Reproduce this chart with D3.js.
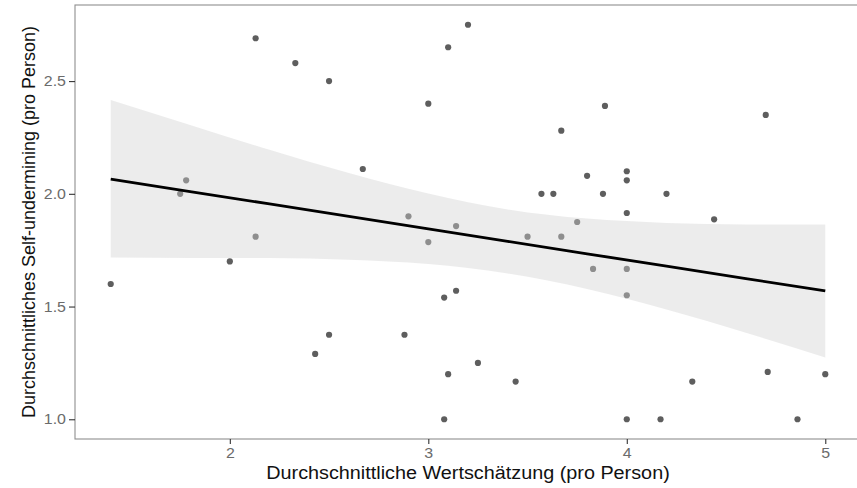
<!DOCTYPE html>
<html>
<head>
<meta charset="utf-8">
<script src="https://cdn.jsdelivr.net/npm/d3@7"></script>
<style>
    body { margin: 0; background: #fff; }
    text { font-family: "Liberation Sans", Arial, sans-serif; }
</style>
</head>
<body>
<div id="chart"></div>
<script>
"use strict";

// Punkte (Wertschätzung, Self-undermining) pro Person
const wertschaetzung = [
    2.13, 2.33, 2.5, 3.2, 3.1, 3.0, 3.67, 2.67, 3.57, 3.63, 3.89, 4.7,
    3.8, 4.0, 4.0, 3.88, 4.2, 4.0, 4.44, 1.4, 2.0, 3.08, 3.14, 2.5,
    2.88, 2.43, 3.25, 3.1, 3.44, 3.08, 4.71, 5.0, 4.33, 4.0, 4.17, 4.86,
    1.78, 1.75, 2.13, 2.9, 3.14, 3.0, 3.5, 3.67, 3.75, 3.83, 4.0, 4.0
];
const selfUndermining = [
    2.69, 2.58, 2.5, 2.75, 2.65, 2.4, 2.28, 2.11, 2.0, 2.0, 2.39, 2.35,
    2.08, 2.1, 2.06, 2.0, 2.0, 1.915, 1.887, 1.6, 1.7, 1.54, 1.57, 1.375,
    1.375, 1.29, 1.25, 1.2, 1.167, 1.0, 1.21, 1.2, 1.167, 1.0, 1.0, 1.0,
    2.06, 2.0, 1.81, 1.9, 1.857, 1.786, 1.81, 1.81, 1.875, 1.667, 1.667, 1.55
];

// Regressionslinie und Konfidenzband
const bandX =     [1.4,   1.8,   2.2,   2.6,   3.0,   3.4,   3.8,   4.2,   4.6,   5.0];
const bandFit =   [2.065, 2.010, 1.955, 1.900, 1.845, 1.789, 1.734, 1.679, 1.624, 1.569];
const bandLower = [1.717, 1.715, 1.715, 1.708, 1.689, 1.647, 1.578, 1.487, 1.384, 1.274];
const bandUpper = [2.416, 2.305, 2.195, 2.092, 2.001, 1.931, 1.890, 1.871, 1.864, 1.864];

const xTicks = [2, 3, 4, 5];
const yTicks = [1.0, 1.5, 2.0, 2.5];

const width = 857, height = 488;
const margin = { top: 5, right: -4, bottom: 49, left: 75 };
const stretchX = 1.1; // Vorlage ist horizontal etwas gestreckt

const svg = d3.select("#chart")
    .append("svg")
    .attr("width", width)
    .attr("height", height);

const x = d3.scaleLinear()
    .domain([1.22, 5.18])
    .range([margin.left, width - margin.right]);

const y = d3.scaleLinear()
    .domain([0.9125, 2.8375])
    .range([height - margin.bottom, margin.top]);

const points = wertschaetzung.map((d, i) => ({ x: d, y: selfUndermining[i] }));
const band = bandX.map((d, i) => ({ x: d, fit: bandFit[i], lo: bandLower[i], hi: bandUpper[i] }));

function stretch(sel, k) {
    sel.each(function () {
        const w = this.getComputedTextLength();
        d3.select(this)
            .attr("textLength", w * k)
            .attr("lengthAdjust", "spacingAndGlyphs");
    });
}

// Punkte
svg.append("g")
    .selectAll("circle")
    .data(points)
    .enter()
    .append("circle")
    .attr("cx", d => x(d.x))
    .attr("cy", d => y(d.y))
    .attr("r", 3.1)
    .attr("fill", "#5e5e5e");

// Band liegt über den Punkten (wie geom_smooth)
svg.append("path")
    .datum(band)
    .attr("fill", "#d2d2d2")
    .attr("fill-opacity", 0.42)
    .attr("d", d3.area()
        .x(d => x(d.x))
        .y0(d => y(d.lo))
        .y1(d => y(d.hi))
        .curve(d3.curveNatural));

svg.append("path")
    .datum(band)
    .attr("fill", "none")
    .attr("stroke", "#000")
    .attr("stroke-width", 2.8)
    .attr("d", d3.line()
        .x(d => x(d.x))
        .y(d => y(d.fit)));

// Rahmen
svg.append("rect")
    .attr("x", x.range()[0])
    .attr("y", y.range()[1])
    .attr("width", x.range()[1] - x.range()[0])
    .attr("height", y.range()[0] - y.range()[1])
    .attr("fill", "none")
    .attr("stroke", "#8f8f8f")
    .attr("stroke-width", 1.1);

// Achsen
const xAxis = svg.append("g")
    .attr("transform", "translate(0," + y.range()[0] + ")")
    .call(d3.axisBottom(x).tickValues(xTicks).tickSize(5).tickPadding(3.5).tickFormat(d3.format("d")));

const yAxis = svg.append("g")
    .attr("transform", "translate(" + x.range()[0] + ",0)")
    .call(d3.axisLeft(y).tickValues(yTicks).tickSize(6).tickPadding(3).tickFormat(d3.format(".1f")));

[xAxis, yAxis].forEach(g => {
    g.select(".domain").remove();
    g.selectAll(".tick line").attr("stroke", "#333").attr("stroke-width", 1.1);
    g.selectAll(".tick text")
        .attr("fill", "#6b6b6b")
        .style("font-size", "14.5px")
        .style("font-family", "'Liberation Sans', Arial, sans-serif")
        .call(stretch, stretchX);
});

// Achsentitel
svg.append("text")
    .attr("x", (x.range()[0] + x.range()[1]) / 2)
    .attr("y", 479)
    .attr("text-anchor", "middle")
    .attr("fill", "#111")
    .style("font-size", "18px")
    .text("Durchschnittliche Wertschätzung (pro Person)")
    .call(stretch, stretchX);

svg.append("text")
    .attr("transform", "translate(35," + ((y.range()[0] + y.range()[1]) / 2) + ") rotate(-90)")
    .attr("text-anchor", "middle")
    .attr("fill", "#111")
    .style("font-size", "18px")
    .text("Durchschnittliches Self-undermining (pro Person)");
</script>
</body>
</html>
